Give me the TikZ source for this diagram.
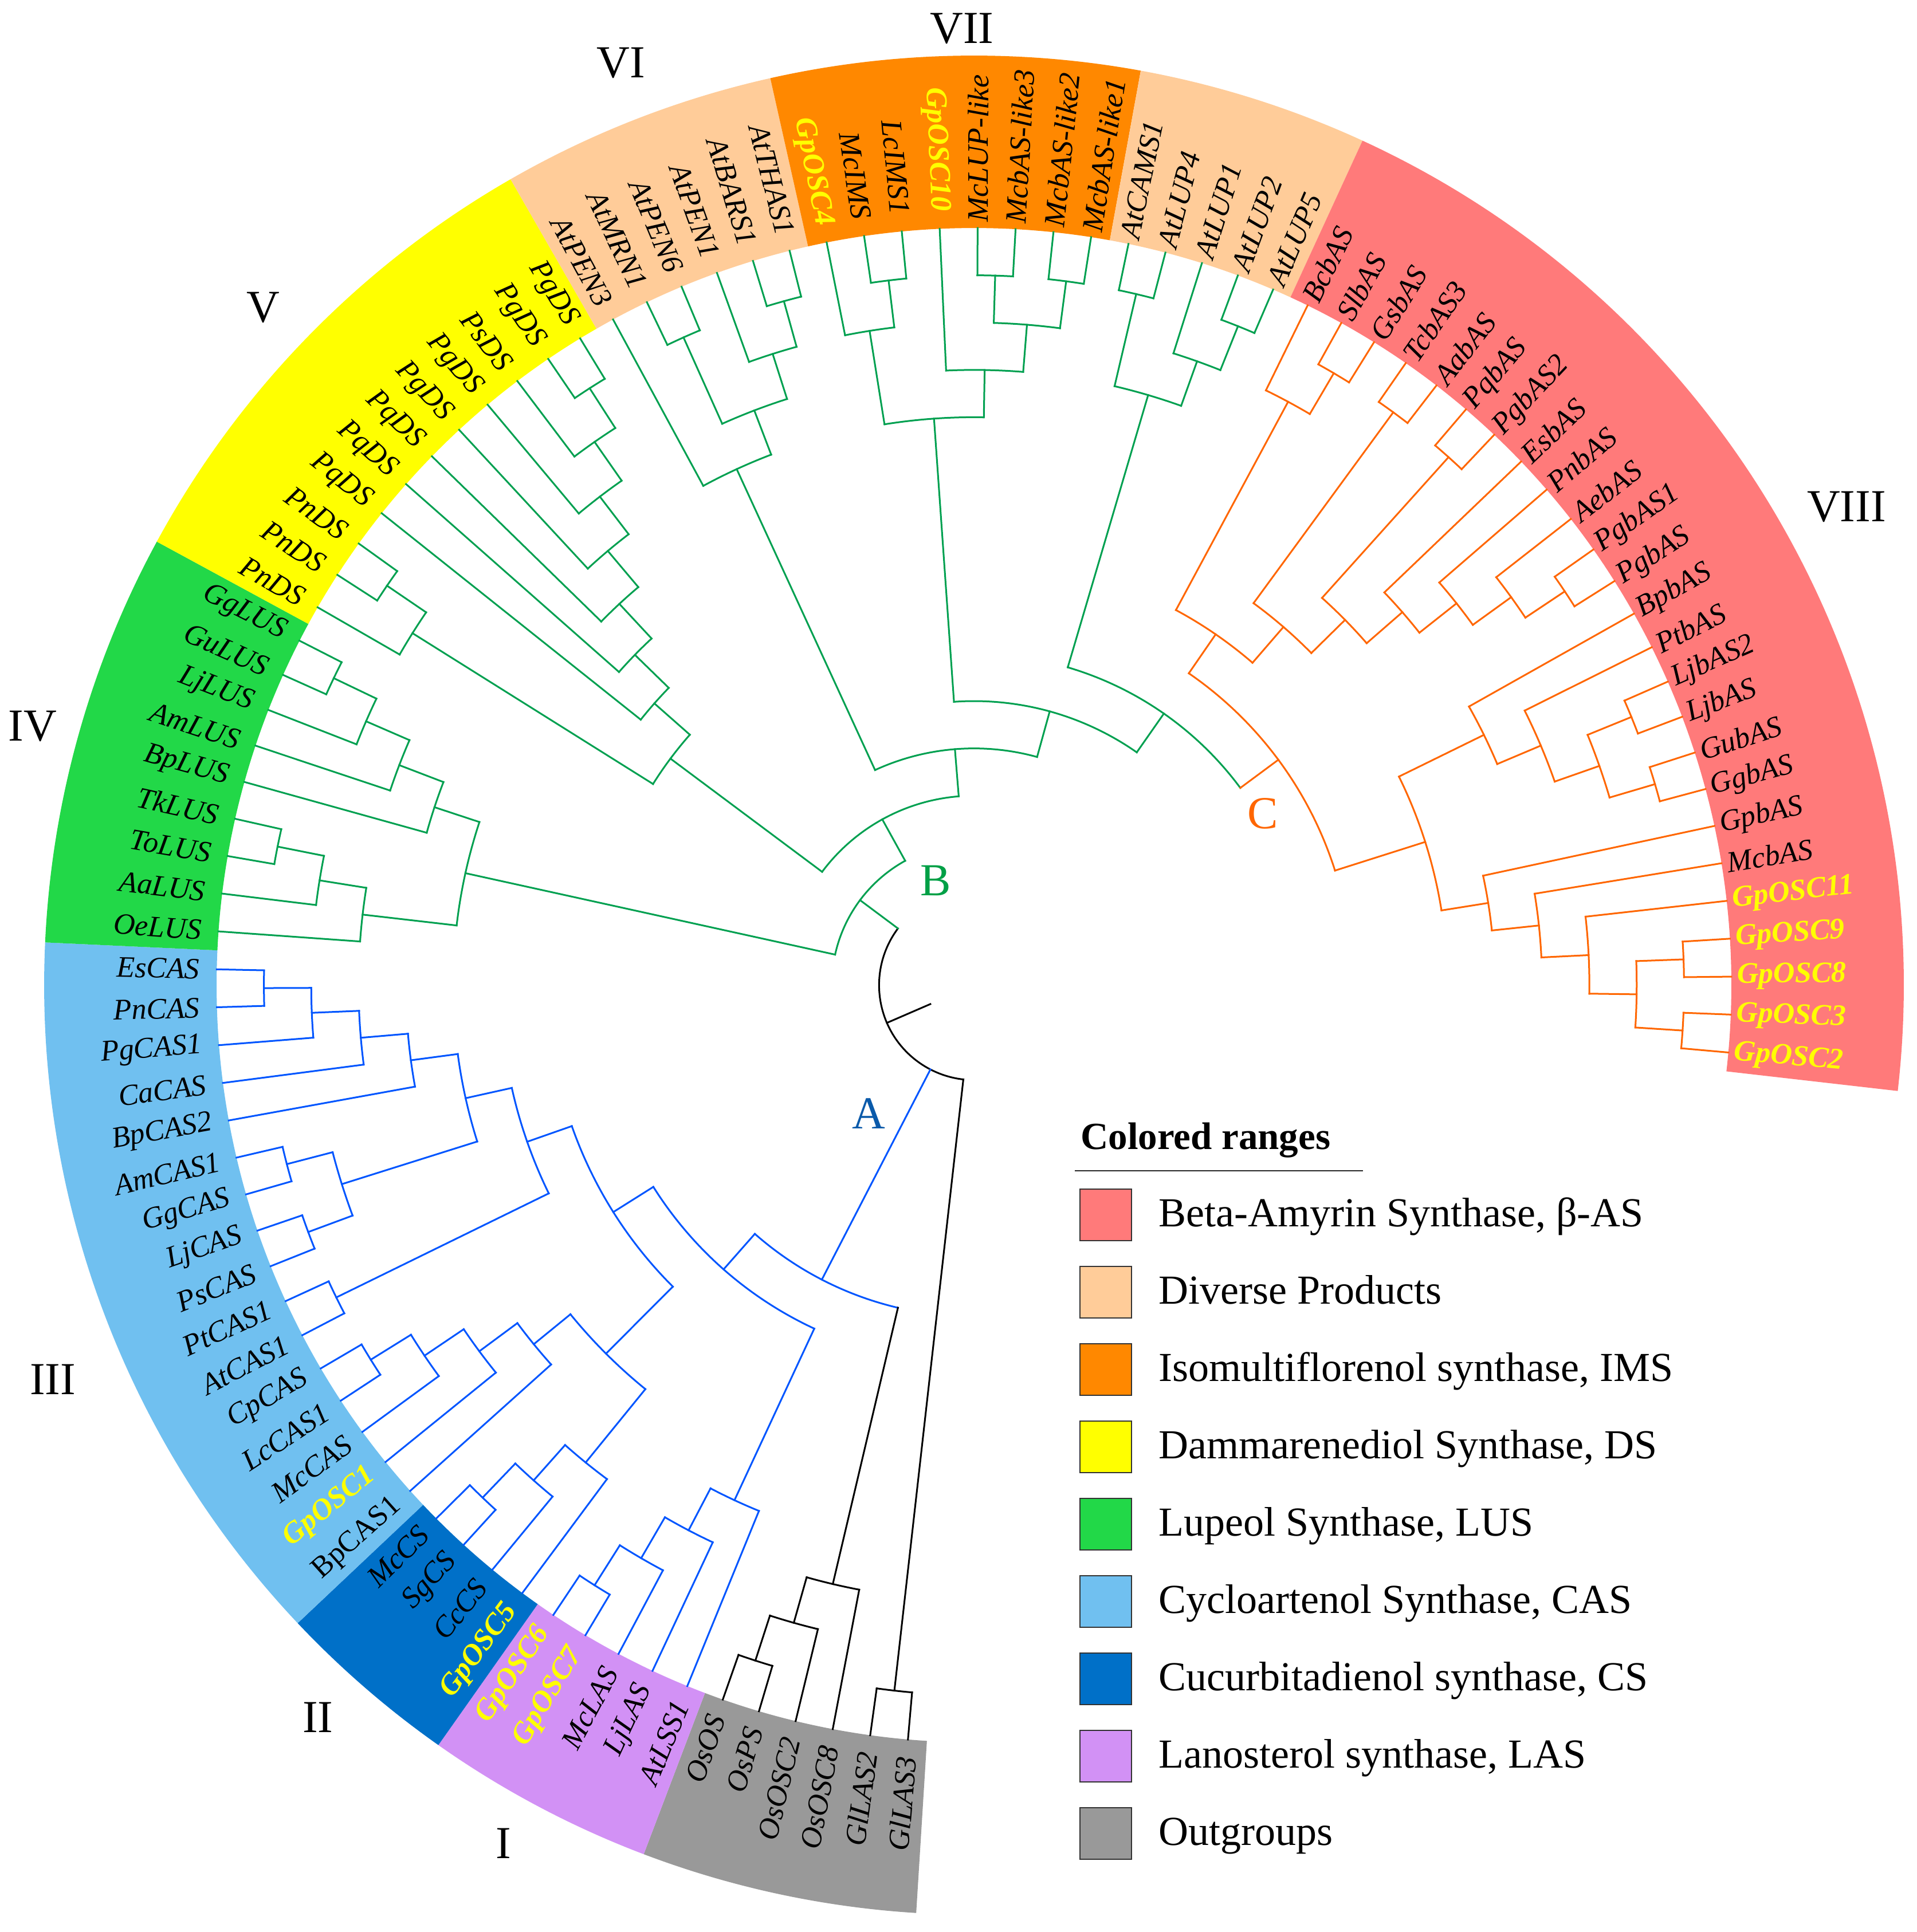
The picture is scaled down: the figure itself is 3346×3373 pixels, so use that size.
\documentclass[tikz,border=0pt]{standalone}
\usepackage{fontspec}
\setmainfont{Liberation Serif}
\definecolor{tblue}{RGB}{0,85,255}
\definecolor{tgreen}{RGB}{0,160,80}
\definecolor{torange}{RGB}{255,102,0}
\definecolor{bandred}{RGB}{255,122,122}
\definecolor{bandpeach}{RGB}{255,204,153}
\definecolor{bandorange}{RGB}{255,136,0}
\definecolor{bandyellow}{RGB}{255,255,0}
\definecolor{bandgreen}{RGB}{34,216,72}
\definecolor{bandlblue}{RGB}{112,192,240}
\definecolor{banddblue}{RGB}{0,112,200}
\definecolor{bandpurple}{RGB}{210,145,245}
\definecolor{bandgray}{RGB}{153,153,153}
\definecolor{labyellow}{RGB}{255,255,0}
\definecolor{labA}{RGB}{10,90,170}
\definecolor{labB}{RGB}{0,160,70}
\definecolor{labC}{RGB}{255,102,0}
\definecolor{boxedge}{RGB}{51,51,51}

\def\Rtip{1322}
\def\RlabR{1332}
\def\RlabL{1352}
\def\Rin{1322}
\def\Rout{1623}
\def\Unit{82.6}

\newcommand\tleaf[5]{%
  \pgfmathsetmacro\tAng{265-2.8734*#2}%
  \expandafter\xdef\csname tang@#1\endcsname{\tAng}%
  \expandafter\xdef\csname tcol@#1\endcsname{#3}%
  \coordinate (#1) at (\tAng:\Rtip);%
  \pgfmathtruncatemacro\tSide{\tAng>90}%
  \ifnum\tSide=1
    \pgfmathsetmacro\tRot{\tAng-180}%
    \node[#4, rotate=\tRot, anchor=east] (#1lab) at (\tAng:\RlabL) {#5};%
  \else
    \node[#4, rotate=\tAng, anchor=west] (#1lab) at (\tAng:\RlabR) {#5};%
  \fi
}
\newcommand\tclade[4]{%
  \pgfmathsetmacro\tRad{\Rtip-\Unit*#2}%
  \gdef\tFirst{}\gdef\tLast{}%
  \foreach \cn in {#4}{%
    \ifx\tFirst\empty\xdef\tFirst{\cn}\fi
    \xdef\tLast{\cn}%
  }%
  \edef\tAone{\csname tang@\tFirst\endcsname}%
  \edef\tAtwo{\csname tang@\tLast\endcsname}%
  \pgfmathsetmacro\tAng{(\tAone)/2+(\tAtwo)/2}%
  \expandafter\xdef\csname tang@#1\endcsname{\tAng}%
  \expandafter\xdef\csname tcol@#1\endcsname{#3}%
  \coordinate (#1) at (\tAng:\tRad);%
  \draw[branch,color=#3] (\tAone:\tRad) arc[start angle=\tAone, end angle=\tAtwo, radius=\tRad];%
  \foreach \cn in {#4}{%
    \edef\tAc{\csname tang@\cn\endcsname}%
    \edef\tCc{\csname tcol@\cn\endcsname}%
    \draw[branch,color=\tCc] (\tAc:\tRad) -- (\cn);%
  }%
}
\newcommand\tband[3]{%
  \fill[#1] (#2:\Rin) -- (#2:\Rout) arc[start angle=#2, end angle=#3, radius=\Rout]
    -- (#3:\Rin) arc[start angle=#3, end angle=#2, radius=\Rin] -- cycle;%
}

\tikzset{
  branch/.style={line width=3, line cap=rect, line join=miter},
  leaflab/.style={font={\fontsize{52}{60}\selectfont\itshape}, inner sep=0pt, text=black},
  gplab/.style={font={\fontsize{52}{60}\selectfont\bfseries\itshape}, inner sep=0pt, text=labyellow},
  uplab/.style={font={\fontsize{52}{60}\selectfont}, inner sep=0pt, text=black},
  numlab/.style={font={\fontsize{80}{90}\selectfont}, inner sep=0pt, text=black},
  cladelab/.style={font={\fontsize{80}{90}\selectfont}, inner sep=0pt},
  legtitle/.style={font={\fontsize{67}{75}\selectfont\bfseries}, inner sep=0pt},
  legtxt/.style={font={\fontsize{72}{80}\selectfont}, inner sep=0pt},
  legbox/.style={draw=boxedge, line width=2, minimum width=90, minimum height=90, inner sep=0pt}
}

\begin{document}
\begin{tikzpicture}[x=1pt,y=1pt]
\useasboundingbox (-1700,-1653) rectangle (1646,1720);
\fill[white] (-1700,-1653) rectangle (1646,1720);

% colored ranges
\tband{bandgray}{266.437}{249.196}
\tband{bandpurple}{249.196}{234.829}
\tband{banddblue}{234.829}{223.336}
\tband{bandlblue}{223.336}{177.361}
\tband{bandgreen}{177.361}{151.501}
\tband{bandyellow}{151.501}{119.893}
\tband{bandpeach}{119.893}{102.653}
\tband{bandorange}{102.653}{79.666}
\tband{bandpeach}{79.666}{65.299}
\tband{bandred}{65.299}{-6.536}

% leaves
\tleaf{GlLAS3}{0}{black}{leaflab}{GlLAS3}
\tleaf{GlLAS2}{1}{black}{leaflab}{GlLAS2}
\tleaf{OsOSC8}{2}{black}{leaflab}{OsOSC8}
\tleaf{OsOSC2}{3}{black}{leaflab}{OsOSC2}
\tleaf{OsPS}{4}{black}{leaflab}{OsPS}
\tleaf{OsOS}{5}{black}{leaflab}{OsOS}
\tleaf{AtLSS1}{6}{tblue}{leaflab}{AtLSS1}
\tleaf{LjLAS}{7}{tblue}{leaflab}{LjLAS}
\tleaf{McLAS}{8}{tblue}{leaflab}{McLAS}
\tleaf{GpOSC7}{9}{tblue}{gplab}{GpOSC7}
\tleaf{GpOSC6}{10}{tblue}{gplab}{GpOSC6}
\tleaf{GpOSC5}{11}{tblue}{gplab}{GpOSC5}
\tleaf{CcCS}{12}{tblue}{leaflab}{CcCS}
\tleaf{SgCS}{13}{tblue}{leaflab}{SgCS}
\tleaf{McCS}{14}{tblue}{leaflab}{McCS}
\tleaf{BpCAS1}{15}{tblue}{uplab}{BpCAS1}
\tleaf{GpOSC1}{16}{tblue}{gplab}{GpOSC1}
\tleaf{McCAS}{17}{tblue}{leaflab}{McCAS}
\tleaf{LcCAS1}{18}{tblue}{leaflab}{LcCAS1}
\tleaf{CpCAS}{19}{tblue}{leaflab}{CpCAS}
\tleaf{AtCAS1}{20}{tblue}{leaflab}{AtCAS1}
\tleaf{PtCAS1}{21}{tblue}{leaflab}{PtCAS1}
\tleaf{PsCAS}{22}{tblue}{leaflab}{PsCAS}
\tleaf{LjCAS}{23}{tblue}{leaflab}{LjCAS}
\tleaf{GgCAS}{24}{tblue}{leaflab}{GgCAS}
\tleaf{AmCAS1}{25}{tblue}{leaflab}{AmCAS1}
\tleaf{BpCAS2}{26}{tblue}{leaflab}{BpCAS2}
\tleaf{CaCAS}{27}{tblue}{leaflab}{CaCAS}
\tleaf{PgCAS1}{28}{tblue}{leaflab}{PgCAS1}
\tleaf{PnCAS}{29}{tblue}{leaflab}{PnCAS}
\tleaf{EsCAS}{30}{tblue}{leaflab}{EsCAS}
\tleaf{OeLUS}{31}{tgreen}{leaflab}{OeLUS}
\tleaf{AaLUS}{32}{tgreen}{leaflab}{AaLUS}
\tleaf{ToLUS}{33}{tgreen}{leaflab}{ToLUS}
\tleaf{TkLUS}{34}{tgreen}{leaflab}{TkLUS}
\tleaf{BpLUS}{35}{tgreen}{leaflab}{BpLUS}
\tleaf{AmLUS}{36}{tgreen}{leaflab}{AmLUS}
\tleaf{LjLUS}{37}{tgreen}{leaflab}{LjLUS}
\tleaf{GuLUS}{38}{tgreen}{leaflab}{GuLUS}
\tleaf{GgLUS}{39}{tgreen}{leaflab}{GgLUS}
\tleaf{PnDSa}{40}{tgreen}{leaflab}{PnDS}
\tleaf{PnDSb}{41}{tgreen}{leaflab}{PnDS}
\tleaf{PnDSc}{42}{tgreen}{leaflab}{PnDS}
\tleaf{PqDSa}{43}{tgreen}{leaflab}{PqDS}
\tleaf{PqDSb}{44}{tgreen}{leaflab}{PqDS}
\tleaf{PqDSc}{45}{tgreen}{leaflab}{PqDS}
\tleaf{PgDSa}{46}{tgreen}{leaflab}{PgDS}
\tleaf{PgDSb}{47}{tgreen}{leaflab}{PgDS}
\tleaf{PsDS}{48}{tgreen}{leaflab}{PsDS}
\tleaf{PgDSc}{49}{tgreen}{leaflab}{PgDS}
\tleaf{PgDSd}{50}{tgreen}{leaflab}{PgDS}
\tleaf{AtPEN3}{51}{tgreen}{leaflab}{AtPEN3}
\tleaf{AtMRN1}{52}{tgreen}{leaflab}{AtMRN1}
\tleaf{AtPEN6}{53}{tgreen}{leaflab}{AtPEN6}
\tleaf{AtPEN1}{54}{tgreen}{leaflab}{AtPEN1}
\tleaf{AtBARS1}{55}{tgreen}{leaflab}{AtBARS1}
\tleaf{AtTHAS1}{56}{tgreen}{leaflab}{AtTHAS1}
\tleaf{GpOSC4}{57}{tgreen}{gplab}{GpOSC4}
\tleaf{McIMS}{58}{tgreen}{leaflab}{McIMS}
\tleaf{LcIMS1}{59}{tgreen}{leaflab}{LcIMS1}
\tleaf{GpOSC10}{60}{tgreen}{gplab}{GpOSC10}
\tleaf{McLUPlike}{61}{tgreen}{leaflab}{McLUP-like}
\tleaf{McbASlike3}{62}{tgreen}{leaflab}{McbAS-like3}
\tleaf{McbASlike2}{63}{tgreen}{leaflab}{McbAS-like2}
\tleaf{McbASlike1}{64}{tgreen}{leaflab}{McbAS-like1}
\tleaf{AtCAMS1}{65}{tgreen}{leaflab}{AtCAMS1}
\tleaf{AtLUP4}{66}{tgreen}{leaflab}{AtLUP4}
\tleaf{AtLUP1}{67}{tgreen}{leaflab}{AtLUP1}
\tleaf{AtLUP2}{68}{tgreen}{leaflab}{AtLUP2}
\tleaf{AtLUP5}{69}{tgreen}{leaflab}{AtLUP5}
\tleaf{BcbAS}{70}{torange}{leaflab}{BcbAS}
\tleaf{SlbAS}{71}{torange}{leaflab}{SlbAS}
\tleaf{GsbAS}{72}{torange}{leaflab}{GsbAS}
\tleaf{TcbAS3}{73}{torange}{leaflab}{TcbAS3}
\tleaf{AabAS}{74}{torange}{leaflab}{AabAS}
\tleaf{PqbAS}{75}{torange}{leaflab}{PqbAS}
\tleaf{PgbAS2}{76}{torange}{leaflab}{PgbAS2}
\tleaf{EsbAS}{77}{torange}{leaflab}{EsbAS}
\tleaf{PnbAS}{78}{torange}{leaflab}{PnbAS}
\tleaf{AebAS}{79}{torange}{leaflab}{AebAS}
\tleaf{PgbAS1}{80}{torange}{leaflab}{PgbAS1}
\tleaf{PgbAS}{81}{torange}{leaflab}{PgbAS}
\tleaf{BpbAS}{82}{torange}{leaflab}{BpbAS}
\tleaf{PtbAS}{83}{torange}{leaflab}{PtbAS}
\tleaf{LjbAS2}{84}{torange}{leaflab}{LjbAS2}
\tleaf{LjbAS}{85}{torange}{leaflab}{LjbAS}
\tleaf{GubAS}{86}{torange}{leaflab}{GubAS}
\tleaf{GgbAS}{87}{torange}{leaflab}{GgbAS}
\tleaf{GpbAS}{88}{torange}{leaflab}{GpbAS}
\tleaf{McbAS}{89}{torange}{leaflab}{McbAS}
\tleaf{GpOSC11}{90}{torange}{gplab}{GpOSC11}
\tleaf{GpOSC9}{91}{torange}{gplab}{GpOSC9}
\tleaf{GpOSC8}{92}{torange}{gplab}{GpOSC8}
\tleaf{GpOSC3}{93}{torange}{gplab}{GpOSC3}
\tleaf{GpOSC2}{94}{torange}{gplab}{GpOSC2}

% outgroups
\tclade{gl}{1}{black}{GlLAS3,GlLAS2}
\tclade{os1}{1}{black}{OsPS,OsOS}
\tclade{os2}{2}{black}{OsOSC2,os1}
\tclade{os3}{3}{black}{OsOSC8,os2}
% clade A
\tclade{las1}{1}{tblue}{GpOSC7,GpOSC6}
\tclade{las2}{2}{tblue}{McLAS,las1}
\tclade{las3}{3}{tblue}{LjLAS,las2}
\tclade{las4}{4}{tblue}{AtLSS1,las3}
\tclade{cs1}{1}{tblue}{SgCS,McCS}
\tclade{cs2}{2}{tblue}{CcCS,cs1}
\tclade{cs3}{3}{tblue}{GpOSC5,cs2}
\tclade{cl1}{1}{tblue}{LcCAS1,CpCAS}
\tclade{cl2}{2}{tblue}{McCAS,cl1}
\tclade{cl3}{3}{tblue}{GpOSC1,cl2}
\tclade{cl4}{4}{tblue}{BpCAS1,cl3}
\tclade{x5}{5}{tblue}{cs3,cl4}
\tclade{cpa}{1}{tblue}{AtCAS1,PtCAS1}
\tclade{cps}{1}{tblue}{PsCAS,LjCAS}
\tclade{cga}{1}{tblue}{GgCAS,AmCAS1}
\tclade{cg2}{2}{tblue}{cps,cga}
\tclade{cu1}{1}{tblue}{PnCAS,EsCAS}
\tclade{cu2}{2}{tblue}{PgCAS1,cu1}
\tclade{cu3}{3}{tblue}{CaCAS,cu2}
\tclade{cu4}{4}{tblue}{BpCAS2,cu3}
\tclade{c909}{5}{tblue}{cg2,cu4}
\tclade{c826}{6}{tblue}{cpa,c909}
\tclade{c746}{7}{tblue}{x5,c826}
\tclade{c663}{8}{tblue}{las4,c746}
\tclade{aos}{9}{tblue}{os3,c663}
% clade B
\tclade{lu1}{1}{tgreen}{ToLUS,TkLUS}
\tclade{lu2}{2}{tgreen}{AaLUS,lu1}
\tclade{lu3}{3}{tgreen}{OeLUS,lu2}
\tclade{lg1}{1}{tgreen}{GuLUS,GgLUS}
\tclade{lg2}{2}{tgreen}{LjLUS,lg1}
\tclade{lg3}{3}{tgreen}{AmLUS,lg2}
\tclade{lg4}{4}{tgreen}{BpLUS,lg3}
\tclade{lus}{5}{tgreen}{lu3,lg4}
\tclade{dn1}{1}{tgreen}{PnDSb,PnDSc}
\tclade{dn2}{2}{tgreen}{PnDSa,dn1}
\tclade{dq1}{1}{tgreen}{PgDSc,PgDSd}
\tclade{dq2}{2}{tgreen}{PsDS,dq1}
\tclade{dq3}{3}{tgreen}{PgDSb,dq2}
\tclade{dq4}{4}{tgreen}{PgDSa,dq3}
\tclade{dq5}{5}{tgreen}{PqDSc,dq4}
\tclade{dq6}{6}{tgreen}{PqDSb,dq5}
\tclade{dq7}{7}{tgreen}{PqDSa,dq6}
\tclade{ds}{8}{tgreen}{dn2,dq7}
\tclade{v1}{1}{tgreen}{AtBARS1,AtTHAS1}
\tclade{v2}{2}{tgreen}{AtPEN1,v1}
\tclade{v3a}{1}{tgreen}{AtMRN1,AtPEN6}
\tclade{v3}{3}{tgreen}{v3a,v2}
\tclade{v4}{4}{tgreen}{AtPEN3,v3}
\tclade{s1}{1}{tgreen}{McIMS,LcIMS1}
\tclade{s2}{2}{tgreen}{GpOSC4,s1}
\tclade{t1}{1}{tgreen}{McLUPlike,McbASlike3}
\tclade{t2}{1}{tgreen}{McbASlike2,McbASlike1}
\tclade{t3}{2}{tgreen}{t1,t2}
\tclade{t4}{3}{tgreen}{GpOSC10,t3}
\tclade{vii}{4}{tgreen}{s2,t4}
\tclade{p1}{1}{tgreen}{AtCAMS1,AtLUP4}
\tclade{p2}{1}{tgreen}{AtLUP2,AtLUP5}
\tclade{p3}{2}{tgreen}{AtLUP1,p2}
\tclade{pe}{3}{tgreen}{p1,p3}
% clade C
\tclade{b1}{1}{torange}{SlbAS,GsbAS}
\tclade{b2}{2}{torange}{BcbAS,b1}
\tclade{k1}{1}{torange}{TcbAS3,AabAS}
\tclade{k2}{1}{torange}{PqbAS,PgbAS2}
\tclade{g1}{1}{torange}{PgbAS1,PgbAS}
\tclade{g2}{2}{torange}{AebAS,g1}
\tclade{g3}{3}{torange}{PnbAS,g2}
\tclade{g4}{4}{torange}{EsbAS,g3}
\tclade{g5}{5}{torange}{k2,g4}
\tclade{g6}{6}{torange}{k1,g5}
\tclade{g7}{7}{torange}{b2,g6}
\tclade{j1}{1}{torange}{LjbAS2,LjbAS}
\tclade{j2}{1}{torange}{GubAS,GgbAS}
\tclade{j3}{2}{torange}{j1,j2}
\tclade{j4}{3}{torange}{PtbAS,j3}
\tclade{j5}{4}{torange}{BpbAS,j4}
\tclade{m1}{1}{torange}{GpOSC9,GpOSC8}
\tclade{m2}{1}{torange}{GpOSC3,GpOSC2}
\tclade{m3}{2}{torange}{m1,m2}
\tclade{m4}{3}{torange}{GpOSC11,m3}
\tclade{m5}{4}{torange}{McbAS,m4}
\tclade{m6}{5}{torange}{GpbAS,m5}
\tclade{n6}{6}{torange}{j5,m6}
\tclade{cc}{8}{torange}{g7,n6}
% backbone
\tclade{hnine}{9}{tgreen}{pe,cc}
\tclade{hten}{10}{tgreen}{vii,hnine}
\tclade{heleven}{11}{tgreen}{v4,hten}
\tclade{htwelve}{12}{tgreen}{ds,heleven}
\tclade{bthirteen}{13}{tgreen}{lus,htwelve}
\tclade{root}{14}{black}{bthirteen,aos,gl}
\pgfmathsetmacro\tRootA{\csname tang@root\endcsname}
\coordinate (rootbase) at (\tRootA:83);
\draw[branch,color=black] (rootbase) -- (root);

% range numerals
\node[numlab] (nVIII) at (1523,835) {VIII};
\node[numlab] (nVII) at (-21,1670) {VII};
\node[numlab] (nVI) at (-616,1610) {VI};
\node[numlab] (nV) at (-1241,1183) {V};
\node[numlab] (nIV) at (-1643,452) {IV};
\node[numlab] (nIII) at (-1608,-688) {III};
\node[numlab] (nII) at (-1145,-1278) {II};
\node[numlab] (nI) at (-821,-1498) {I};
% clade letters
\node[cladelab, text=labA] (lA) at (-184,-224) {A};
\node[cladelab, text=labB] (lB) at (-67,183) {B};
\node[cladelab, text=labC] (lC) at (504,300) {C};

% legend
\node[legtitle, anchor=base west] (legt) at (186,-286) {Colored ranges};
\draw[line width=2.2, black!85] (176,-324) -- (679,-324);
\node[legbox, fill=bandred] (lb0) at (230,-401) {};
\node[legtxt, anchor=base west] (lt0) at (322,-421.7) {Beta-Amyrin Synthase, β-AS};
\node[legbox, fill=bandpeach] (lb1) at (230,-536) {};
\node[legtxt, anchor=base west] (lt1) at (322,-556.7) {Diverse Products};
\node[legbox, fill=bandorange] (lb2) at (230,-671) {};
\node[legtxt, anchor=base west] (lt2) at (322,-691.7) {Isomultiflorenol synthase, IMS};
\node[legbox, fill=bandyellow] (lb3) at (230,-806) {};
\node[legtxt, anchor=base west] (lt3) at (322,-826.7) {Dammarenediol Synthase, DS};
\node[legbox, fill=bandgreen] (lb4) at (230,-941) {};
\node[legtxt, anchor=base west] (lt4) at (322,-961.7) {Lupeol Synthase, LUS};
\node[legbox, fill=bandlblue] (lb5) at (230,-1076) {};
\node[legtxt, anchor=base west] (lt5) at (322,-1096.7) {Cycloartenol Synthase, CAS};
\node[legbox, fill=banddblue] (lb6) at (230,-1211) {};
\node[legtxt, anchor=base west] (lt6) at (322,-1231.7) {Cucurbitadienol synthase, CS};
\node[legbox, fill=bandpurple] (lb7) at (230,-1346) {};
\node[legtxt, anchor=base west] (lt7) at (322,-1366.7) {Lanosterol synthase, LAS};
\node[legbox, fill=bandgray] (lb8) at (230,-1481) {};
\node[legtxt, anchor=base west] (lt8) at (322,-1501.7) {Outgroups};
\end{tikzpicture}
\end{document}
